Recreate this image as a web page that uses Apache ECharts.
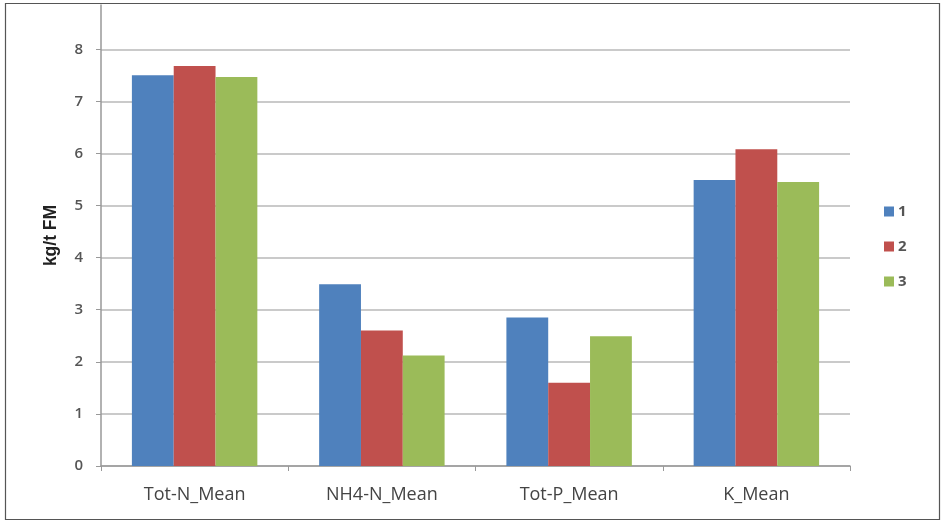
<!DOCTYPE html>
<html>
<head>
<meta charset="utf-8">
<script src="https://cdn.jsdelivr.net/npm/echarts@6/dist/echarts.min.js"></script>
<style>
  html, body { margin: 0; padding: 0; background: #fff; }
  #chart { width: 943px; height: 523px; }
</style>
</head>
<body>
<div id="chart"></div>
<script>
// Nutrient content per tonne of fresh matter, three groups per parameter
var categories = ['Tot-N_Mean', 'NH4-N_Mean', 'Tot-P_Mean', 'K_Mean'];
var seriesNames = ['1', '2', '3'];
var values1 = [7.50, 3.49, 2.85, 5.49];
var values2 = [7.68, 2.60, 1.60, 6.08];
var values3 = [7.47, 2.12, 2.49, 5.45];
var yTicks = [0, 1, 2, 3, 4, 5, 6, 7, 8];

var colors = ['#4F81BD', '#C0504D', '#9BBB59'];
var seriesData = [values1, values2, values3];

// Grid lines at every integer tick; the line at the axis top stays hidden
var gridColors = yTicks.map(function () { return '#b8b8b8'; });
gridColors.push('rgba(0,0,0,0)');

var chart = echarts.init(document.getElementById('chart'), null, { renderer: 'canvas' });

chart.setOption({
  animation: false,
  backgroundColor: '#ffffff',
  color: colors,
  textStyle: { fontFamily: 'Open Sans, Liberation Sans, Arial, sans-serif' },
  graphic: [{
    type: 'rect',
    shape: { x: 5.5, y: 3.5, width: 934, height: 516 },
    style: { fill: 'none', stroke: '#555', lineWidth: 1.2 },
    silent: true
  }],
  grid: { left: 101, right: 93, top: 5, bottom: 57, containLabel: false },
  legend: {
    orient: 'vertical',
    left: 879,
    top: 199,
    itemWidth: 10,
    itemHeight: 10,
    itemGap: 20,
    icon: 'rect',
    textStyle: { fontSize: 15, fontWeight: 'bold', color: '#555', padding: [0, 0, 0, -1] },
    data: seriesNames
  },
  xAxis: {
    type: 'category',
    data: categories,
    axisLine: { lineStyle: { color: '#999', width: 1.5 } },
    axisTick: { show: true, alignWithLabel: false, length: 5, lineStyle: { color: '#999' } },
    axisLabel: { fontSize: 18, color: '#444', margin: 20 }
  },
  yAxis: {
    type: 'value',
    min: 0,
    max: 8.85,
    interval: 1,
    name: 'kg/t FM',
    nameLocation: 'middle',
    nameRotate: 90,
    nameGap: 41,
    nameTextStyle: { fontSize: 17.5, fontWeight: 'bold', color: '#222', fontFamily: 'Liberation Sans, Arial, sans-serif' },
    axisLine: { show: true, lineStyle: { color: '#999', width: 1.5 } },
    axisTick: { show: true, length: 5, lineStyle: { color: '#999' } },
    axisLabel: {
      fontSize: 15,
      fontWeight: 600,
      color: '#555',
      margin: 18,
      showMaxLabel: false,
      formatter: function (v) { return yTicks.indexOf(v) >= 0 ? String(v) : ''; }
    },
    splitLine: { show: true, lineStyle: { color: gridColors, width: 1.5 } }
  },
  series: seriesNames.map(function (name, i) {
    return {
      name: name,
      type: 'bar',
      data: seriesData[i],
      barGap: '0%',
      barCategoryGap: '33%',
      itemStyle: { color: colors[i] }
    };
  })
});
</script>
</body>
</html>
